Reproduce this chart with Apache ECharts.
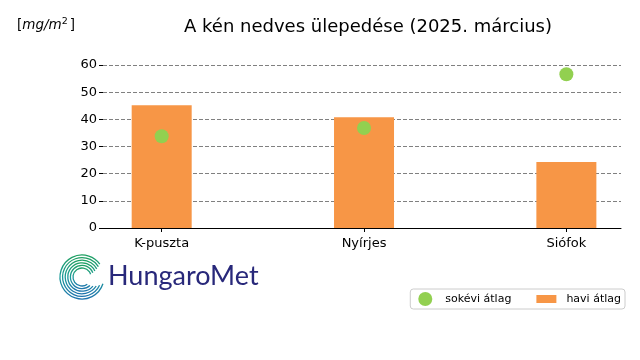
<!DOCTYPE html>
<html><head><meta charset="utf-8">
<script src="https://cdn.jsdelivr.net/npm/echarts@6/dist/echarts.min.js"></script>
<style>html,body{margin:0;padding:0;background:#fff}#c{width:640px;height:360px}</style>
</head><body><div id="c"></div>
<script>
var categories = ['K-puszta', 'Nyírjes', 'Siófok'];
var haviAtlag = [45.2, 40.8, 24.3];
var sokeviAtlag = [33.8, 36.8, 56.6];
var yTicks = [0, 10, 20, 30, 40, 50, 60];

var chart = echarts.init(document.getElementById('c'));
var font = 'DejaVu Sans';
var arcs = [];
var radii = [9, 11.6, 14.2, 16.8, 19.4, 22];
radii.forEach(function (r, i) {
  arcs.push({
    type: 'arc',
    shape: {cx: 82, cy: 277, r: r, startAngle: Math.PI * (0.3 - i * 0.04), endAngle: Math.PI * (1.9 - i * 0.02), clockwise: true},
    style: {fill: 'none', lineWidth: 1.3, stroke: {type: 'linear', x: 0, y: 0, x2: 0, y2: 1, global: false,
      colorStops: [{offset: 0, color: '#1fa05a'}, {offset: 0.5, color: '#1a9a9a'}, {offset: 1, color: '#1f6fb0'}]}},
    silent: true
  });
});
chart.setOption({
  animation: false,
  textStyle: {fontFamily: font},
  title: {text: 'A kén nedves ülepedése (2025. március)', left: 363, textAlign: 'center', top: 13,
    textStyle: {fontFamily: font, fontSize: 18, fontWeight: 'normal', color: '#000'}},
  grid: {left: 103, right: 19, top: 65, bottom: 132},
  legend: {
    right: 15, top: 289, orient: 'horizontal',
    borderColor: '#cccccc', borderWidth: 1, borderRadius: 3, padding: [3, 4, 3, 8],
    itemWidth: 20, itemHeight: 14, itemGap: 25,
    textStyle: {fontFamily: font, fontSize: 11, color: '#000', padding: [0, 0, 0, 5]},
    data: [{name: 'sokévi átlag', icon: 'circle'}, {name: 'havi átlag', icon: 'path://M0,0h20v8h-20z'}]
  },
  xAxis: {
    type: 'value', min: -0.29, max: 2.27,
    splitLine: {show: false},
    axisLine: {show: true, onZero: false, lineStyle: {color: '#000', width: 1}},
    axisTick: {show: true, customValues: [0, 1, 2], length: 4, lineStyle: {color: '#000'}},
    axisLabel: {show: true, customValues: [0, 1, 2], margin: 9, fontSize: 13, color: '#000', fontFamily: font,
      formatter: function (v) { return categories[Math.round(v)] || ''; }}
  },
  yAxis: {
    type: 'value', min: 0, max: 60, interval: 10,
    axisLine: {show: false, onZero: false},
    axisTick: {show: true, length: 4, lineStyle: {color: '#000'}},
    axisLabel: {fontSize: 13, color: '#000', margin: 6, fontFamily: font,
      formatter: function (v) { return yTicks.indexOf(v) >= 0 ? String(v) : ''; }},
    splitLine: {show: true, lineStyle: {color: '#808080', type: [4, 2], width: 1}}
  },
  graphic: [
    {type: 'text', left: 17, top: 17, style: {text: '{a|[}{b|mg/m}{c|2}{a|]}', rich: {
      a: {fontFamily: font, fontSize: 13.5, fill: '#000'},
      b: {fontFamily: font, fontSize: 13.5, fontStyle: 'italic', fill: '#000'},
      c: {fontFamily: font, fontSize: 9.5, fill: '#000', verticalAlign: 'top', padding: [0, 2, 6, 0]}
    }}},
    {type: 'text', left: 108, top: 263, style: {text: 'HungaroMet', fontFamily: 'Lato', fontWeight: 'normal', fontSize: 27, fill: '#28287a'}}
  ].concat(arcs),
  series: [
    {name: 'havi átlag', type: 'bar', barWidth: 60, itemStyle: {color: '#f79646'}, z: 2,
      data: haviAtlag.map(function (v, i) { return [i, v]; })},
    {name: 'sokévi átlag', type: 'scatter', symbolSize: 14, itemStyle: {color: '#92d050', opacity: 1}, z: 3,
      data: sokeviAtlag.map(function (v, i) { return [i, v]; })}
  ]
});
</script></body></html>
